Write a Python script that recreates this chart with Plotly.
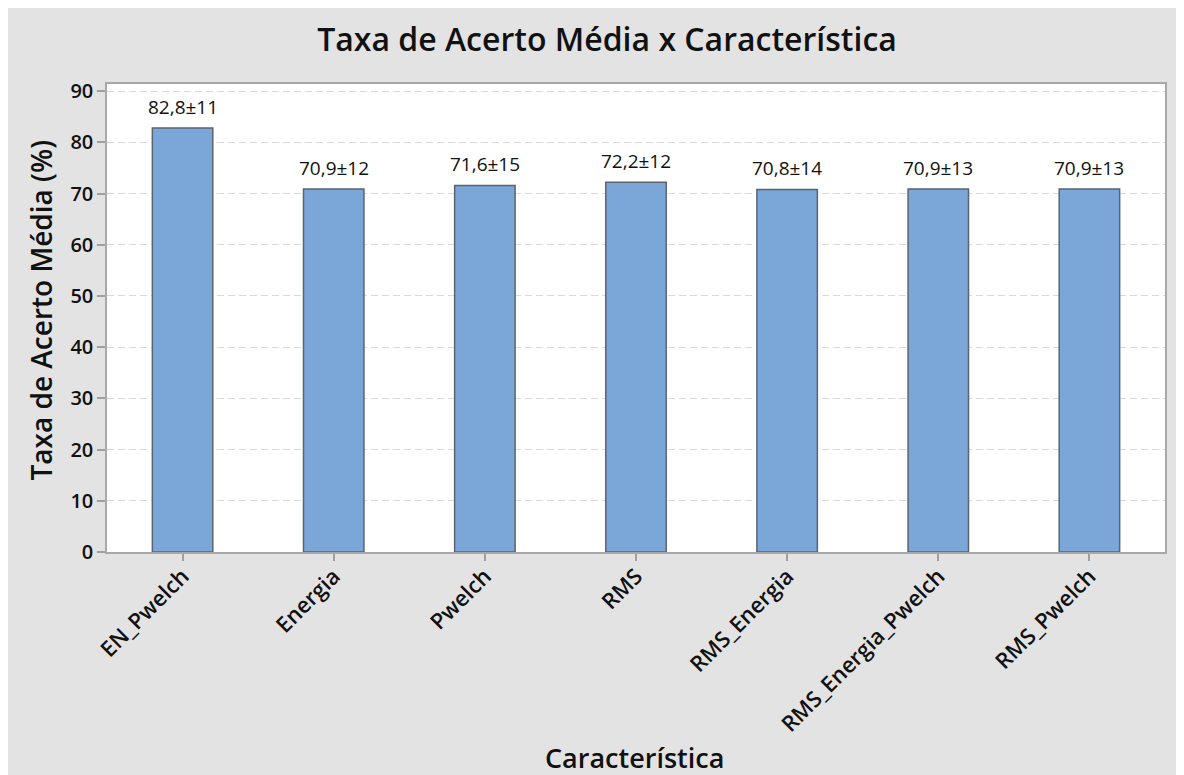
import plotly.graph_objects as go

categories = ["EN_Pwelch", "Energia", "Pwelch", "RMS", "RMS_Energia", "RMS_Energia_Pwelch", "RMS_Pwelch"]
means = [82.8, 70.9, 71.6, 72.2, 70.8, 70.9, 70.9]
stds = [11, 12, 15, 12, 14, 13, 13]
y_ticks = [0, 10, 20, 30, 40, 50, 60, 70, 80, 90]

labels = [f"{m:.1f}".replace(".", ",") + "±" + str(s) for m, s in zip(means, stds)]

W, H = 1176, 767
L, R, T, B = 99, 19, 76, 223
PW, PH = W - L - R, H - T - B

FONT = "Open Sans"
TXT = "#111111"

fig = go.Figure()
fig.add_trace(go.Bar(
    x=categories, y=means, width=0.4,
    marker=dict(color="#7BA6D8", line=dict(color="#5A6470", width=1.5)),
    hoverinfo="x+y",
))

for c, m, lab in zip(categories, means, labels):
    fig.add_annotation(x=c, y=m, text=lab, showarrow=False, xanchor="center",
                       yanchor="bottom", yshift=6,
                       font=dict(family=FONT, size=19, color=TXT))

# axis titles
fig.add_annotation(xref="paper", yref="paper", x=(32.5 - L) / PW, y=(H - B - 302) / PH,
                   text="Taxa de Acerto Média (%)", textangle=-90, showarrow=False,
                   xanchor="center", yanchor="middle",
                   font=dict(family=FONT, size=28, color=TXT, weight=600))
fig.add_annotation(xref="paper", yref="paper", x=(626 - L) / PW, y=(H - B - 749) / PH,
                   text="Característica", showarrow=False,
                   xanchor="center", yanchor="middle",
                   font=dict(family=FONT, size=27, color=TXT, weight=600))

fig.update_layout(
    width=W, height=H,
    margin=dict(l=L, r=R, t=T, b=B, autoexpand=False),
    paper_bgcolor="#E3E3E3", plot_bgcolor="white",
    showlegend=False,
    title=dict(text="Taxa de Acerto Média x Característica",
               font=dict(family=FONT, size=32, color=TXT, weight=600),
               x=599 / W, xanchor="center", y=1 - 32 / H, yanchor="middle"),
    xaxis=dict(
        automargin=False,
        tickangle=-45, tickfont=dict(family=FONT, size=22, color=TXT, weight=600),
        ticks="outside", ticklen=7, tickcolor="#A0A0A0", tickwidth=1.5,
        ticklabelstandoff=-6,
        showline=True, linecolor="#A8A8A8", linewidth=1.5, mirror=True,
        showgrid=False, range=[-0.5, 6.5],
    ),
    yaxis=dict(
        automargin=False,
        range=[0, 91.4], tickvals=y_ticks,
        tickfont=dict(family=FONT, size=20, color=TXT, weight=600),
        ticks="outside", ticklen=8, tickcolor="#A0A0A0", tickwidth=1.5,
        showline=True, linecolor="#A8A8A8", linewidth=1.5, mirror=True,
        showgrid=True, gridcolor="#D9D9D9", griddash="7px,4px", gridwidth=1,
        zeroline=False,
    ),
)

fig.write_html("out.html")
